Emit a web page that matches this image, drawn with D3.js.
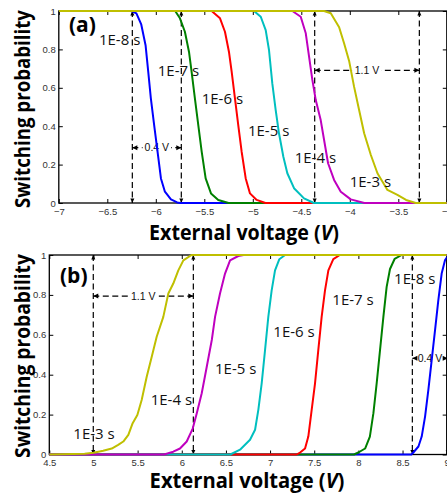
<!DOCTYPE html>
<html>
<head>
<meta charset="utf-8">
<script src="https://cdn.jsdelivr.net/npm/d3@7"></script>
<style>
    body { margin: 0; background: #fff; }
    svg { display: block; }
</style>
</head>
<body>
<svg id="chart" width="447" height="495"></svg>
<script>
// switching probability vs external voltage, two panels

// series labels, shared by both panels (1E-8 s ... 1E-3 s)
let seriesNames = ['1E-8 s', '1E-7 s', '1E-6 s', '1E-5 s', '1E-4 s', '1E-3 s'];
let seriesColors = ['#0000ff', '#008000', '#ff0000', '#00bfbf', '#bf00bf', '#bfbf00'];

// panel (a): negative voltage, [V, probability]
let a8 = [[-7, 1], [-6.25, 1], [-6.2, 0.988], [-6.15, 0.93], [-6.105, 0.82], [-6.078, 0.684], [-6.051, 0.545], [-6.017, 0.406], [-5.982, 0.267], [-5.947, 0.128], [-5.906, 0.059], [-5.844, 0.019], [-5.78, 0.003], [-5.75, 0], [-3, 0]];
let a7 = [[-7, 1], [-5.8, 1], [-5.751, 0.962], [-5.7, 0.892], [-5.658, 0.788], [-5.631, 0.684], [-5.597, 0.545], [-5.562, 0.406], [-5.527, 0.267], [-5.486, 0.128], [-5.431, 0.05], [-5.356, 0.016], [-5.25, 0], [-3, 0]];
let a6 = [[-7, 1], [-5.424, 1], [-5.338, 0.962], [-5.287, 0.892], [-5.246, 0.788], [-5.218, 0.684], [-5.184, 0.545], [-5.15, 0.406], [-5.115, 0.267], [-5.073, 0.128], [-5.029, 0.05], [-4.96, 0.016], [-4.87, 0], [-3, 0]];
let a5 = [[-7, 1], [-4.988, 1], [-4.918, 0.97], [-4.867, 0.9], [-4.833, 0.797], [-4.799, 0.623], [-4.764, 0.484], [-4.73, 0.363], [-4.685, 0.241], [-4.644, 0.155], [-4.575, 0.077], [-4.472, 0.024], [-4.37, 0], [-3, 0]];
let a4 = [[-7, 1], [-4.592, 1], [-4.506, 0.97], [-4.454, 0.884], [-4.42, 0.762], [-4.386, 0.641], [-4.351, 0.536], [-4.3, 0.432], [-4.265, 0.328], [-4.224, 0.207], [-4.162, 0.12], [-4.093, 0.059], [-3.99, 0.019], [-3.85, 0], [-3, 0]];
let a3 = [[-7, 1], [-4.265, 1], [-4.196, 0.988], [-4.11, 0.915], [-4.059, 0.832], [-4.007, 0.74], [-3.956, 0.606], [-3.904, 0.484], [-3.852, 0.363], [-3.783, 0.25], [-3.715, 0.155], [-3.612, 0.068], [-3.509, 0.042], [-3.42, 0.016], [-3.32, 0], [-3, 0]];

// panel (b): positive voltage
let b8 = [[4.5, 0], [8.6, 0], [8.622, 0.01], [8.68, 0.04], [8.717, 0.09], [8.755, 0.19], [8.792, 0.323], [8.83, 0.473], [8.868, 0.623], [8.905, 0.773], [8.943, 0.907], [8.98, 0.973], [9.02, 1], [9.2, 1]];
let b7 = [[4.5, 0], [7.95, 0], [8.0, 0.01], [8.076, 0.03], [8.13, 0.09], [8.17, 0.207], [8.207, 0.357], [8.245, 0.523], [8.283, 0.69], [8.32, 0.84], [8.358, 0.93], [8.41, 0.98], [8.49, 1], [9, 1]];
let b6 = [[4.5, 0], [7.3, 0], [7.34, 0.01], [7.396, 0.03], [7.433, 0.09], [7.471, 0.224], [7.509, 0.357], [7.546, 0.523], [7.584, 0.69], [7.622, 0.823], [7.66, 0.923], [7.716, 0.979], [7.79, 1], [9, 1]];
let b5 = [[4.5, 0], [6.55, 0], [6.66, 0.024], [6.773, 0.074], [6.83, 0.124], [6.867, 0.224], [6.905, 0.357], [6.943, 0.523], [6.98, 0.69], [7.018, 0.823], [7.056, 0.923], [7.105, 0.979], [7.17, 1], [9, 1]];
let b4 = [[4.5, 0], [5.8, 0], [5.904, 0.014], [5.98, 0.03], [6.056, 0.065], [6.124, 0.13], [6.17, 0.207], [6.226, 0.307], [6.283, 0.44], [6.34, 0.574], [6.377, 0.69], [6.433, 0.807], [6.49, 0.907], [6.547, 0.973], [6.64, 0.995], [6.7, 1], [9, 1]];
let b3 = [[4.5, 0], [4.9, 0.004], [5.0, 0.009], [5.11, 0.019], [5.207, 0.03], [5.28, 0.048], [5.338, 0.065], [5.395, 0.098], [5.444, 0.157], [5.497, 0.198], [5.546, 0.273], [5.603, 0.39], [5.66, 0.49], [5.716, 0.59], [5.791, 0.69], [5.848, 0.807], [5.904, 0.857], [5.961, 0.923], [6.018, 0.973], [6.11, 1], [9, 1]];

// curve label anchors (data coords, left/baseline)
let labelsA = [[-6.586, 0.823], [-5.98, 0.661], [-5.527, 0.514], [-5.05, 0.349], [-4.568, 0.21], [-4.001, 0.082]];
let labelsB = [[8.404, 0.855], [7.705, 0.749], [7.037, 0.587], [6.377, 0.402], [5.648, 0.248], [4.772, 0.076]];

// ticks
let ticksA = [-7, -6.5, -6, -5.5, -5, -4.5, -4, -3.5, -3];
let ticksB = [4.5, 5, 5.5, 6, 6.5, 7, 7.5, 8, 8.5, 9];
let ticksY = [0, 0.2, 0.4, 0.6, 0.8, 1];

// voltage-window annotations: [vLeft, vRight, probability of arrow, text]
let spansA = [[-6.242, -5.737, 0.288, '0.4 V'], [-4.362, -3.283, 0.691, '1.1 V']];
let spansB = [[4.998, 6.131, 0.794, '1.1 V'], [8.611, 9.011, 0.482, '0.4 V']];

let svg = d3.select('#chart');

function drawPanel(cfg) {
    let x = d3.scaleLinear().domain(cfg.xDomain).range([cfg.left, cfg.right]);
    let y = d3.scaleLinear().domain([0, 1]).range([cfg.bottom, cfg.top]);
    let g = svg.append('g');

    let clipId = 'clip-' + cfg.id;
    g.append('clipPath').attr('id', clipId)
        .append('rect')
        .attr('x', cfg.left).attr('y', cfg.top - 3)
        .attr('width', cfg.right - cfg.left).attr('height', cfg.bottom - cfg.top + 6);

    // axes: matlab style box, ticks inward on all sides
    let tickFont = function (sel) {
        sel.selectAll('text')
            .attr('font-family', '"Liberation Sans", Arial, sans-serif')
            .attr('font-size', '9.5px')
            .attr('fill', '#333');
        sel.select('.domain').remove();
        sel.selectAll('line').attr('stroke', '#000');
    };
    g.append('g').attr('transform', 'translate(0,' + cfg.bottom + ')')
        .call(d3.axisBottom(x).tickValues(cfg.xTicks).tickSize(-4).tickPadding(5).tickFormat(d3.format('')))
        .call(tickFont);
    g.append('g').attr('transform', 'translate(0,' + cfg.top + ')')
        .call(d3.axisTop(x).tickValues(cfg.xTicks).tickSize(-4).tickFormat(''))
        .call(tickFont);
    g.append('g').attr('transform', 'translate(' + cfg.left + ',0)')
        .call(d3.axisLeft(y).tickValues(ticksY).tickSize(-4).tickPadding(3).tickFormat(d3.format('')))
        .call(tickFont);
    g.append('g').attr('transform', 'translate(' + cfg.right + ',0)')
        .call(d3.axisRight(y).tickValues(ticksY).tickSize(-4).tickFormat(''))
        .call(tickFont);
    g.append('rect')
        .attr('x', cfg.left).attr('y', cfg.top)
        .attr('width', cfg.right - cfg.left).attr('height', cfg.bottom - cfg.top)
        .attr('fill', 'none').attr('stroke', '#000').attr('stroke-width', 1.3);

    // dashed voltage windows
    drawSpans(g, cfg.spans, x, y, cfg);

    // curves, drawn 1E-8 first so 1E-3 ends on top
    let line = d3.line().x(d => x(d[0])).y(d => y(d[1]));
    g.append('g').attr('clip-path', 'url(#' + clipId + ')')
        .selectAll('path')
        .data(cfg.curves)
        .enter()
        .append('path')
        .attr('d', d => line(d))
        .attr('fill', 'none')
        .attr('stroke', (d, i) => seriesColors[i])
        .attr('stroke-width', 2)
        .attr('stroke-linejoin', 'round');

    // curve labels
    g.selectAll('.curve-label')
        .data(cfg.labels)
        .enter()
        .append('text')
        .attr('class', 'curve-label')
        .attr('x', d => x(d[0]))
        .attr('y', d => y(d[1]))
        .attr('font-family', '"Open Sans", sans-serif')
        .attr('font-size', '15px')
        .attr('fill', '#111')
        .text((d, i) => seriesNames[i]);

    // panel tag
    g.append('text')
        .attr('x', cfg.tagPos[0]).attr('y', cfg.tagPos[1])
        .attr('font-family', '"Open Sans", sans-serif')
        .attr('font-weight', 'bold')
        .attr('font-size', '21px')
        .attr('fill', '#000')
        .text(cfg.tag);

    // axis titles
    let xt = g.append('text')
        .attr('text-anchor', 'middle')
        .attr('font-family', '"Open Sans", sans-serif')
        .attr('font-weight', 'bold')
        .attr('font-size', '21px')
        .attr('fill', '#000');
    xt.append('tspan').text('External voltage (');
    xt.append('tspan').attr('font-style', 'italic').text('V');
    xt.append('tspan').text(')');
    squeeze(xt, cfg.xTitle[2], cfg.xTitle[0], cfg.xTitle[1], 0);

    let yt = g.append('text')
        .attr('text-anchor', 'middle')
        .attr('font-family', '"Open Sans", sans-serif')
        .attr('font-weight', 'bold')
        .attr('font-size', '21px')
        .attr('fill', '#000')
        .text('Switching probability');
    squeeze(yt, cfg.yTitle[2], cfg.yTitle[0], cfg.yTitle[1], -90);
}

// scale text horizontally to a target width (narrow calibri look)
function squeeze(sel, targetW, cx, cy, rot) {
    let w = sel.node().getComputedTextLength();
    let k = targetW / w;
    sel.attr('transform', 'translate(' + cx + ',' + cy + ') rotate(' + rot + ') scale(' + k + ',1)');
}

function drawSpans(g, spans, x, y, cfg) {
    let dash = '6,3.5';
    spans.forEach(function (s) {
        let x1 = x(s[0]), x2 = x(s[1]), yy = y(s[2]);
        [x1, x2].forEach(function (xx) {
            g.append('line')
                .attr('x1', xx).attr('x2', xx)
                .attr('y1', cfg.top).attr('y2', cfg.bottom)
                .attr('stroke', '#000').attr('stroke-width', 1.2)
                .attr('stroke-dasharray', dash);
            // arrow tips at the axes
            g.append('path')
                .attr('d', 'M' + xx + ',' + cfg.top + 'l-2,4.5l4,0z')
                .attr('fill', '#000');
            g.append('path')
                .attr('d', 'M' + xx + ',' + cfg.bottom + 'l-2,-4.5l4,0z')
                .attr('fill', '#000');
        });
        let mid = (x1 + x2) / 2;
        let t = g.append('text')
            .attr('x', mid).attr('y', yy + 3.7)
            .attr('text-anchor', 'middle')
            .attr('font-family', '"Liberation Sans", Arial, sans-serif')
            .attr('font-size', '10.5px')
            .attr('fill', '#111')
            .text(s[3]);
        let tw = t.node().getComputedTextLength();
        g.append('line')
            .attr('x1', x1).attr('x2', mid - tw / 2 - 2)
            .attr('y1', yy).attr('y2', yy)
            .attr('stroke', '#000').attr('stroke-width', 1.2).attr('stroke-dasharray', dash);
        g.append('line')
            .attr('x1', x2).attr('x2', mid + tw / 2 + 2)
            .attr('y1', yy).attr('y2', yy)
            .attr('stroke', '#000').attr('stroke-width', 1.2).attr('stroke-dasharray', dash);
        // small arrow heads at both ends
        g.append('path')
            .attr('d', 'M' + x1 + ',' + yy + 'l5,-2.5l0,5z')
            .attr('fill', '#000');
        g.append('path')
            .attr('d', 'M' + x2 + ',' + yy + 'l-5,-2.5l0,5z')
            .attr('fill', '#000');
    });
}

drawPanel({
    id: 'a', tag: '(a)', tagPos: [69, 32],
    xDomain: [-7, -3], left: 58.8, right: 446.8, top: 11, bottom: 203,
    xTicks: ticksA,
    curves: [a8, a7, a6, a5, a4, a3],
    labels: labelsA, spans: spansA,
    xTitle: [244, 240, 190], yTitle: [30, 109, 198]
});

drawPanel({
    id: 'b', tag: '(b)', tagPos: [60, 283],
    xDomain: [4.5, 9], left: 49.3, right: 446.7, top: 255, bottom: 454.5,
    xTicks: ticksB,
    curves: [b8, b7, b6, b5, b4, b3],
    labels: labelsB, spans: spansB,
    xTitle: [247, 488, 195], yTitle: [30, 356, 204]
});
</script>
</body>
</html>
